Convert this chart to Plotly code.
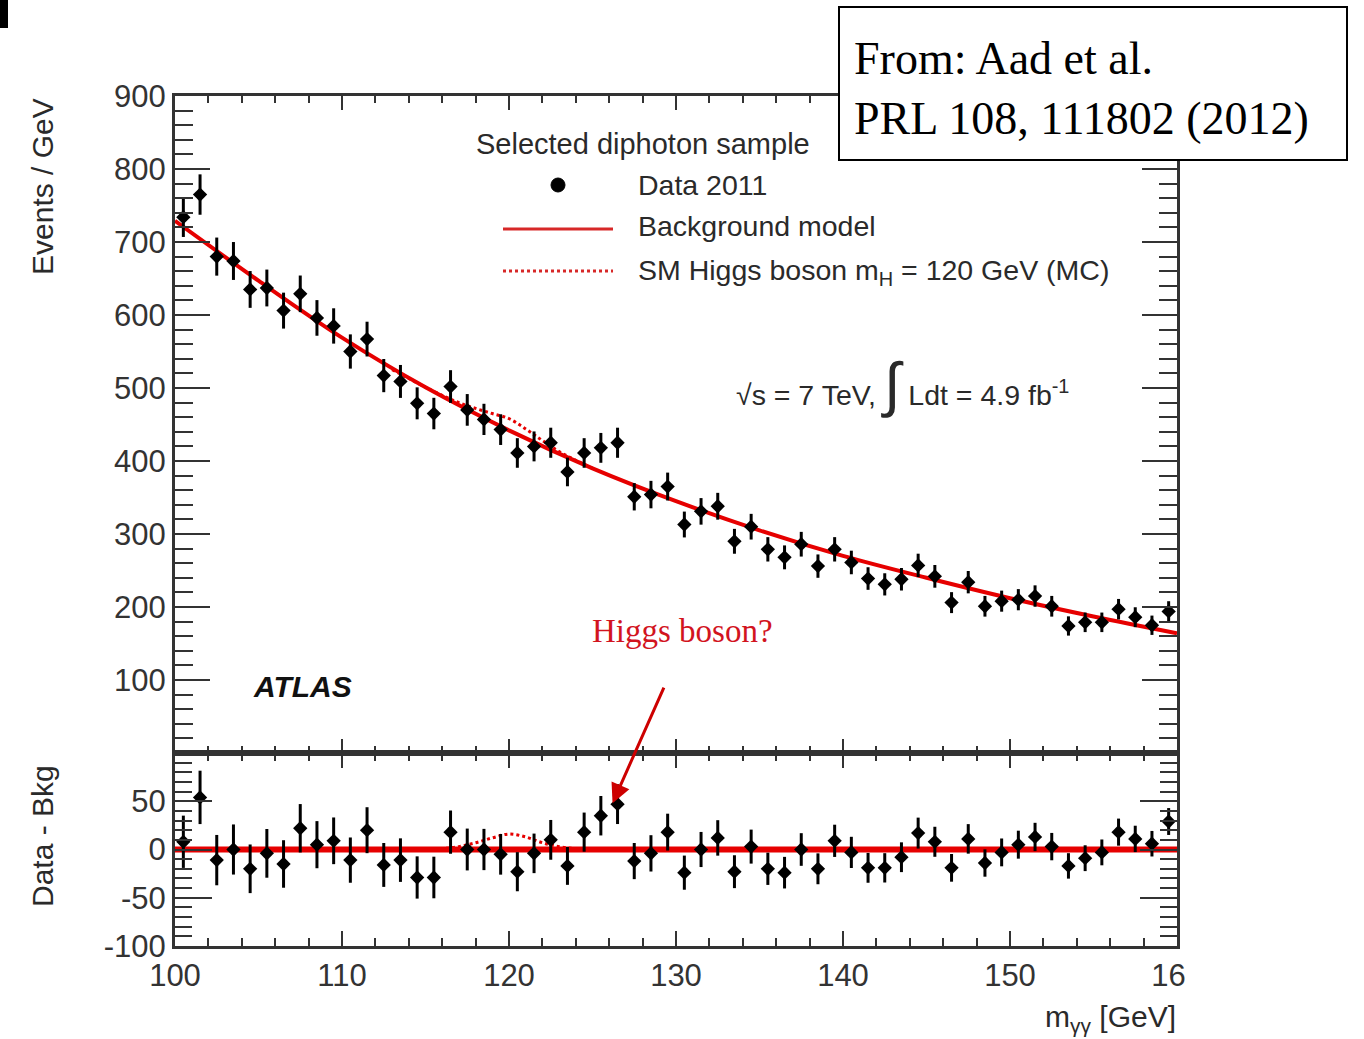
import plotly.graph_objects as go
import numpy as np

# ---------------- data ----------------
mass = [100.5, 101.5, 102.5, 103.5, 104.5, 105.5, 106.5, 107.5, 108.5, 109.5,
        110.5, 111.5, 112.5, 113.5, 114.5, 115.5, 116.5, 117.5, 118.5, 119.5,
        120.5, 121.5, 122.5, 123.5, 124.5, 125.5, 126.5, 127.5, 128.5, 129.5,
        130.5, 131.5, 132.5, 133.5, 134.5, 135.5, 136.5, 137.5, 138.5, 139.5,
        140.5, 141.5, 142.5, 143.5, 144.5, 145.5, 146.5, 147.5, 148.5, 149.5,
        150.5, 151.5, 152.5, 153.5, 154.5, 155.5, 156.5, 157.5, 158.5, 159.5]

events = [734, 765, 680, 674, 635, 637, 606, 629, 596, 585,
          550, 567, 517, 509, 479, 465, 502, 470, 457, 443,
          411, 420, 425, 385, 411, 418, 425, 351, 354, 365,
          313, 331, 338, 290, 310, 279, 268, 286, 256, 279,
          261, 239, 231, 238, 257, 242, 206, 234, 201, 208,
          210, 215, 201, 174, 179, 179, 197, 186, 175, 194]

residual = [8, 54, -11, 0, -20, -4, -15, 22, 5, 9,
            -11, 20, -16, -11, -29, -29, 18, 0, 0, -5,
            -23, -4, 10, -17, 18, 35, 47, -12, -4, 18,
            -24, 0, 12, -23, 3, -20, -24, 0, -20, 9,
            -3, -19, -19, -8, 17, 8, -19, 11, -14, -3,
            5, 13, 3, -17, -9, -3, 18, 11, 6, 29]

bkg_mass = [100, 105, 110, 115, 120, 125, 130, 135, 140, 145, 150, 155, 160]
bkg_events = [729, 647, 569, 501, 442, 390, 345, 305, 270, 240, 212, 187, 164]

higgs_mass = [113, 114, 115, 116, 117, 118, 119, 120, 121, 122, 123, 124, 125]
higgs_events = [525, 513, 501, 490, 480, 472, 465, 458, 444, 428, 413, 401, 390]

sig_mass = [113, 114, 115, 116, 117, 118, 119, 120, 121, 122, 123, 124, 125]
sig_resid = [0, 0, 0, 1, 3, 7, 12, 16, 13, 7, 3, 1, 0]

bkg_line_mass = [100, 160]
bkg_line_resid = [0, 0]

x_ticks = [100, 110, 120, 130, 140, 150, 160]
y_top_ticks = [100, 200, 300, 400, 500, 600, 700, 800, 900]
y_bot_ticks = [-100, -50, 0, 50, 100]
y_bot_text = ["-100", "-50", "0", "50", ""]

err = list(np.sqrt(np.array(events, dtype=float)))

RED = "rgb(230,0,0)"
AX = "#333333"
FONT = "Liberation Sans, Arial, sans-serif"
SERIF = "Liberation Serif, Times New Roman, serif"

fig = go.Figure()

# top panel
fig.add_trace(go.Scatter(x=bkg_mass, y=bkg_events, mode="lines",
                         line=dict(color=RED, width=4, shape="spline"),
                         xaxis="x", yaxis="y", showlegend=False))
fig.add_trace(go.Scatter(x=higgs_mass, y=higgs_events, mode="lines",
                         line=dict(color=RED, width=3, dash="dot", shape="spline"),
                         xaxis="x", yaxis="y", showlegend=False))
fig.add_trace(go.Scatter(x=mass, y=events, mode="markers",
                         marker=dict(symbol="diamond", size=11, color="black"),
                         error_y=dict(type="data", array=err, color="black",
                                      thickness=3, width=0),
                         xaxis="x", yaxis="y", showlegend=False))

# bottom panel
fig.add_trace(go.Scatter(x=bkg_line_mass, y=bkg_line_resid, mode="lines",
                         line=dict(color=RED, width=6),
                         xaxis="x2", yaxis="y2", showlegend=False))
fig.add_trace(go.Scatter(x=sig_mass, y=sig_resid, mode="lines",
                         line=dict(color=RED, width=3, dash="dot", shape="spline"),
                         xaxis="x2", yaxis="y2", showlegend=False))
fig.add_trace(go.Scatter(x=mass, y=residual, mode="markers",
                         marker=dict(symbol="diamond", size=11, color="black"),
                         error_y=dict(type="data", array=err, color="black",
                                      thickness=3, width=0),
                         xaxis="x2", yaxis="y2", showlegend=False))

common = dict(showline=True, linecolor=AX, linewidth=3, mirror="ticks",
              ticks="inside", tickcolor=AX, tickwidth=2,
              showgrid=False, zeroline=False,
              tickfont=dict(family=FONT, size=31, color=AX))

split = 193 / 850

fig.update_layout(
    width=1364, height=1039,
    margin=dict(l=175, r=187, t=96, b=93),
    paper_bgcolor="white", plot_bgcolor="white",
    xaxis=dict(range=[100, 160], anchor="y", tickmode="array", tickvals=x_ticks,
               showticklabels=False, ticklen=14,
               minor=dict(tickmode="linear", tick0=100, dtick=2, ticklen=7,
                          ticks="inside", tickcolor=AX, tickwidth=2),
               **common),
    yaxis=dict(range=[0, 900], domain=[split, 1], anchor="x", tickmode="array",
               tickvals=y_top_ticks, ticklen=35,
               minor=dict(tickmode="linear", tick0=0, dtick=20, ticklen=18,
                          ticks="inside", tickcolor=AX, tickwidth=2),
               **common),
    xaxis2=dict(range=[100, 160], anchor="y2", tickmode="array", tickvals=x_ticks,
                ticklen=15,
                minor=dict(tickmode="linear", tick0=100, dtick=2, ticklen=8,
                           ticks="inside", tickcolor=AX, tickwidth=2),
                **common),
    yaxis2=dict(range=[-100, 100], domain=[0, split], anchor="x2", tickmode="array",
                tickvals=y_bot_ticks, ticktext=y_bot_text, ticklen=37,
                minor=dict(tickmode="linear", tick0=-100, dtick=10, ticklen=17,
                           ticks="inside", tickcolor=AX, tickwidth=2),
                **common),
)

def px_x(px):
    return (px - 175) / 1002.0

def px_y(py):
    return (946 - py) / 850.0

shapes = [
    # legend symbols
    dict(type="circle", xref="paper", yref="paper",
         x0=px_x(551), x1=px_x(565), y0=px_y(192), y1=px_y(178),
         fillcolor="black", line=dict(color="black", width=1)),
    dict(type="line", xref="paper", yref="paper",
         x0=px_x(503), x1=px_x(613), y0=px_y(229), y1=px_y(229),
         line=dict(color="rgb(215,40,40)", width=3)),
    dict(type="line", xref="paper", yref="paper",
         x0=px_x(503), x1=px_x(613), y0=px_y(271), y1=px_y(271),
         line=dict(color="rgb(215,40,40)", width=3, dash="dot")),
    # reference box
    dict(type="rect", xref="paper", yref="paper", layer="above",
         x0=px_x(839), x1=px_x(1347), y0=px_y(160), y1=px_y(7),
         fillcolor="white", line=dict(color="black", width=2)),
    # small black mark at the top-left corner
    dict(type="rect", xref="paper", yref="paper", layer="above",
         x0=px_x(0), x1=px_x(8), y0=px_y(28), y1=px_y(0),
         fillcolor="black", line=dict(width=0)),
    # the image is cropped at the right edge of the last tick label
    dict(type="rect", xref="paper", yref="paper", layer="above",
         x0=px_x(1186), x1=px_x(1364), y0=px_y(994), y1=px_y(950),
         fillcolor="white", line=dict(width=0)),
]
fig.update_layout(shapes=shapes)

TXT = "#2a2a2a"
ann = [
    dict(text="Events / GeV", x=px_x(42), y=px_y(187), textangle=-90,
         font=dict(family=FONT, size=30, color=TXT)),
    dict(text="Data - Bkg", x=px_x(42), y=px_y(836), textangle=-90,
         font=dict(family=FONT, size=30, color=TXT)),
    dict(text="m<sub>γγ</sub> [GeV]", x=px_x(1178), y=px_y(1018), xanchor="right",
         font=dict(family=FONT, size=30, color=TXT)),
    dict(text="Selected diphoton sample", x=px_x(643), y=px_y(144),
         font=dict(family=FONT, size=29, color=TXT)),
    dict(text="Data 2011", x=px_x(636), y=px_y(185), xanchor="left",
         font=dict(family=FONT, size=28.5, color=TXT)),
    dict(text="Background model", x=px_x(636), y=px_y(226), xanchor="left",
         font=dict(family=FONT, size=28.5, color=TXT)),
    dict(text="SM Higgs boson m<sub>H</sub> = 120 GeV (MC)", x=px_x(636), y=px_y(272),
         xanchor="left", font=dict(family=FONT, size=28.5, color=TXT)),
    dict(text="√s = 7 TeV, <span style='font-size:60px'>∫</span> Ldt = 4.9 fb<sup>-1</sup>",
         x=px_x(734), y=px_y(384), xanchor="left",
         font=dict(family=FONT, size=28.5, color=TXT)),
    dict(text="<b><i>ATLAS</i></b>", x=px_x(251), y=px_y(686), xanchor="left",
         font=dict(family=FONT, size=30, color="#111111")),
    dict(text="Higgs boson?", x=px_x(682), y=px_y(631),
         font=dict(family=SERIF, size=33, color="rgb(210,20,30)")),
    dict(text="From: Aad et al.", x=px_x(852), y=px_y(58), xanchor="left",
         font=dict(family=SERIF, size=46, color="black")),
    dict(text="PRL 108, 111802 (2012)", x=px_x(852), y=px_y(118), xanchor="left",
         font=dict(family=SERIF, size=46, color="black")),
]
for a in ann:
    a.setdefault("xref", "paper")
    a.setdefault("yref", "paper")
    a.setdefault("showarrow", False)
    a.setdefault("xanchor", "center")
    a.setdefault("yanchor", "middle")
    fig.add_annotation(**a)

# arrow pointing at the excess
fig.add_annotation(x=126.2, y=48, xref="x2", yref="y2", text="",
                   showarrow=True, ax=52, ay=-117, axref="pixel", ayref="pixel",
                   arrowhead=2, arrowsize=1.3, arrowwidth=3,
                   arrowcolor="rgb(205,0,0)", standoff=0)

fig.write_html("out.html",
               config={"displayModeBar": False},
               post_script="document.body.style.margin='0';"
                           "document.body.style.overflow='hidden';")
